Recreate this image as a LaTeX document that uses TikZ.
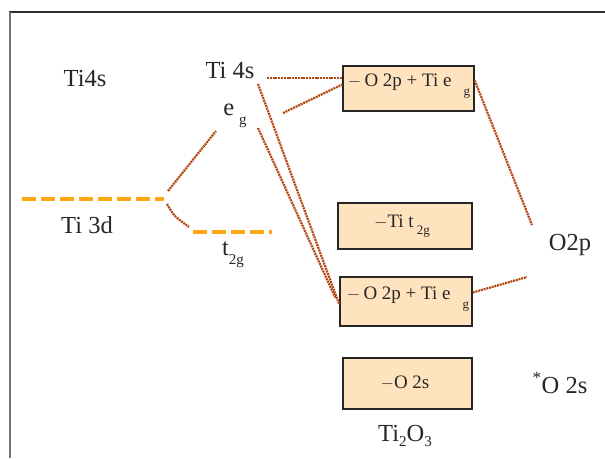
\documentclass[tikz,border=0pt]{standalone}
\usepackage{fontspec}
\setmainfont{Liberation Serif}
\definecolor{brn}{RGB}{180,70,18}
\definecolor{org}{RGB}{255,168,20}
\definecolor{peach}{RGB}{255,226,190}
\definecolor{framedark}{RGB}{50,50,50}
\definecolor{framegray}{RGB}{115,115,115}
\tikzset{
  lbl/.style={inner sep=0pt, text=black!85, font=\fontsize{24.5}{26}\selectfont},
  boxtxt/.style={inner sep=0pt, text=black!85, font=\fontsize{19}{21}\selectfont},
  mobox/.style={draw=black!85, line width=1.5pt, fill=peach, inner sep=0pt},
  link/.style={draw=brn, line width=2.2pt, dash pattern=on 2pt off 0.8pt},
  level/.style={draw=org, line width=4pt, dash pattern=on 14pt off 5pt}
}
\begin{document}
\begin{tikzpicture}[x=1pt,y=-1pt]
\useasboundingbox (0,0) rectangle (605,458);
% frame
\draw[framedark, line width=2.5pt] (9,12) -- (605,12);
\draw[framegray, line width=2.5pt] (10,12) -- (10,458);
% left labels
\node[lbl] (ti4sL) at (85,79) {Ti4s};
\node[lbl] (ti4s) at (230,71) {Ti 4s};
\node[lbl] (eg) at (235,116) {e\hspace{5pt}\raisebox{-9pt}{\fontsize{15}{15}\selectfont g}};
\node[lbl] (ti3d) at (87,225) {Ti 3d};
\node[lbl] (t2g) at (233,255) {t\raisebox{-9pt}{\fontsize{15}{15}\selectfont 2g}};
% levels
\coordinate (d1) at (22,199);
\coordinate (d2) at (164,199);
\coordinate (t1) at (193,232);
\coordinate (t2) at (272,232);
\draw[level] (d1) -- (d2);
\draw[level] (t1) -- (t2);
% boxes
\node[mobox, minimum width=131pt, minimum height=45pt] (b1) at (408.5,88.5) {};
\node[boxtxt] (b1t) at (409,86) {$-$\,O 2p + Ti e\hspace{12pt}\raisebox{-9pt}{\fontsize{13}{13}\selectfont g}};
\node[mobox, minimum width=134pt, minimum height=46pt] (b2) at (405,226) {};
\node[boxtxt] (b2t) at (402,226) {$-$Ti t\,\raisebox{-7pt}{\fontsize{13}{13}\selectfont 2g}};
\node[mobox, minimum width=132pt, minimum height=49pt] (b3) at (406,301.5) {};
\node[boxtxt] (b3t) at (408,299) {$-$\,O 2p + Ti e\hspace{12pt}\raisebox{-9pt}{\fontsize{13}{13}\selectfont g}};
\node[mobox, minimum width=129pt, minimum height=51pt] (b4) at (407.5,383.5) {};
\node[boxtxt] (b4t) at (405,383) {$-$O 2s};
% right labels
\node[lbl] (o2p) at (570,245) {O2p};
\node[lbl] (o2s) at (560,383) {\textsuperscript{*}O 2s};
\node[lbl] (tio) at (405,436) {Ti\raisebox{-5pt}{\fontsize{15}{15}\selectfont 2}O\raisebox{-5pt}{\fontsize{15}{15}\selectfont 3}};
% connector end points
\coordinate (d3up) at (168,191);
\coordinate (d3dn) at (167,204);
\coordinate (egL) at (216,131);
\coordinate (t2gL) at (189,227);
\coordinate (s4a) at (267,78);
\coordinate (egR) at (283,113);
\coordinate (s4d) at (258,84);
\coordinate (egD) at (258,128);
\coordinate (o2pU) at (532,225);
\coordinate (o2pD) at (527,277);
% connectors
\draw[link] (d3up) -- (egL);
\draw[link] (d3dn) .. controls (174,216) .. (t2gL);
\draw[link] (s4a) -- (b1.west |- s4a);
\draw[link] (egR) -- ([yshift=4pt]b1.west);
\draw[link] (s4d) -- ([yshift=-3pt]b3.west);
\draw[link] (egD) -- ([xshift=-4pt,yshift=4pt]b3.west);
\draw[link] ([yshift=8pt]b1.east) -- (o2pU);
\draw[link] ([yshift=9pt]b3.east) -- (o2pD);
\end{tikzpicture}
\end{document}
